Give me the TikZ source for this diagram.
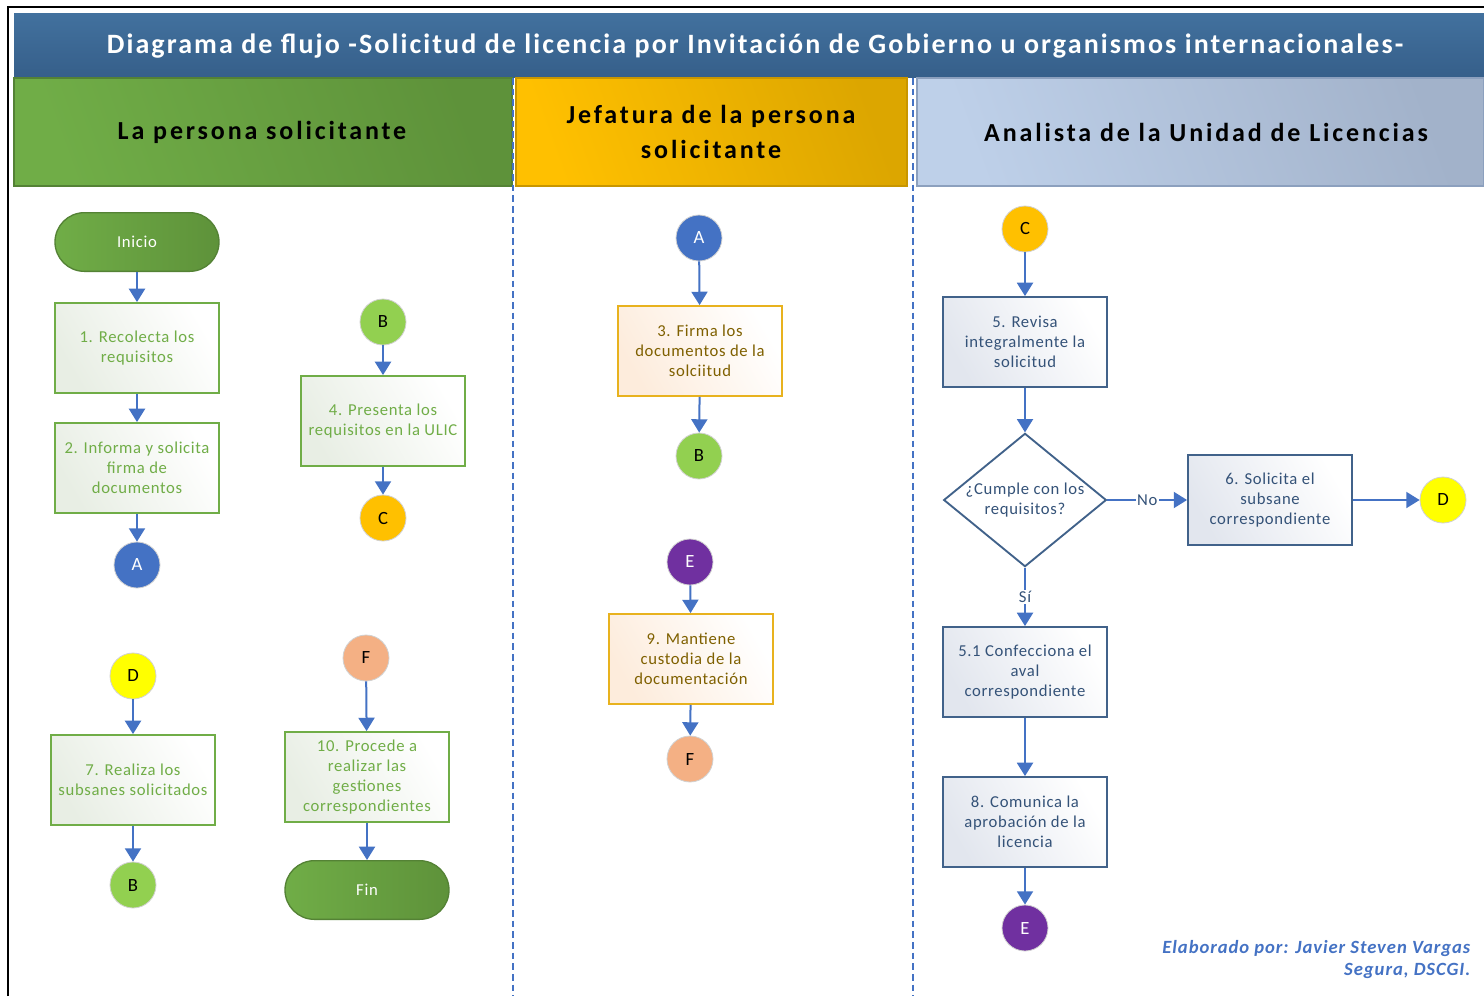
\documentclass[tikz,border=0pt]{standalone}
\usepackage{fontspec}
\setmainfont{Carlito}
\newfontfamily\spaced[LetterSpace=4]{Carlito}
\newfontfamily\titlefont[LetterSpace=7.5]{Carlito}
\newfontfamily\hdrfont[LetterSpace=11]{Carlito}
\newfontfamily\creditfont[LetterSpace=5]{Carlito}
\usetikzlibrary{shapes.geometric,arrows.meta}
\definecolor{arrowblue}{RGB}{68,114,196}
\definecolor{titlebgA}{RGB}{66,113,158}
\definecolor{titlebgB}{RGB}{54,95,138}
\definecolor{greenA}{RGB}{112,173,71}
\definecolor{greenB}{RGB}{94,146,58}
\definecolor{greenD}{RGB}{84,130,53}
\definecolor{goldA}{RGB}{255,192,0}
\definecolor{goldB}{RGB}{220,166,0}
\definecolor{goldD}{RGB}{200,150,0}
\definecolor{lbA}{RGB}{190,208,233}
\definecolor{lbB}{RGB}{162,178,202}
\definecolor{lbD}{RGB}{140,160,190}
\definecolor{gtext}{RGB}{112,173,71}
\definecolor{gfill}{RGB}{232,238,228}
\definecolor{ytext}{RGB}{127,96,0}
\definecolor{yborder}{RGB}{232,178,30}
\definecolor{yfill}{RGB}{253,236,220}
\definecolor{btext}{RGB}{52,82,120}
\definecolor{bborder}{RGB}{65,98,138}
\definecolor{bfill}{RGB}{226,230,238}
\definecolor{cA}{RGB}{68,114,196}
\definecolor{cB}{RGB}{146,208,80}
\definecolor{cC}{RGB}{255,192,0}
\definecolor{cD}{RGB}{255,255,0}
\definecolor{cE}{RGB}{112,48,160}
\definecolor{cF}{RGB}{244,176,132}
\tikzset{
  nodetext/.style={font=\spaced\fontsize{12.5pt}{15pt}\selectfont},
  procbox/.style={rectangle, minimum width=123pt, minimum height=67.5pt, line width=1.4pt, align=center, inner sep=2pt, nodetext},
  gbox/.style={procbox, draw=gtext, text=gtext, left color=gfill, right color=white, shading angle=120},
  ybox/.style={procbox, draw=yborder, text=ytext, left color=yfill, right color=white, shading angle=120},
  bbox/.style={procbox, draw=bborder, text=btext, left color=bfill, right color=white, shading angle=120},
  conn/.style={circle, minimum size=34.5pt, inner sep=0pt, draw=black!18, line width=0.6pt, font=\fontsize{14pt}{16pt}\selectfont},
  term/.style={rectangle, rounded corners=22pt, minimum width=123pt, minimum height=44pt, left color=greenA, right color=greenB, draw=greenD, line width=1pt, text=white, nodetext},
  flow/.style={-{Triangle[width=12pt,length=10pt]}, draw=arrowblue, line width=1.5pt},
  lanehdr/.style={rectangle, line width=0.8pt, align=center, font=\hdrfont\bfseries\fontsize{19.5pt}{26pt}\selectfont, text=black},
  lane/.style={draw=arrowblue, line width=1.5pt, dash pattern=on 5pt off 3pt},
  lbl/.style={fill=white, inner sep=1pt, text=btext, nodetext}
}
\begin{document}
\begin{tikzpicture}[x=0.75pt, y=-0.75pt]
\useasboundingbox (0,0) rectangle (1484,996);
\fill[white] (0,0) rectangle (1484,996);
% outer frame
\draw[line width=1.6pt] (8,996) -- (8,7) -- (1484,7);
% title bar
\shade[top color=titlebgA, bottom color=titlebgB] (14,13) rectangle (1484,77);
\node[text=white, font=\titlefont\bfseries\fontsize{21pt}{25pt}\selectfont] (title) at (755,46) {Diagrama de flujo -Solicitud de licencia por Invitación de Gobierno u organismos internacionales-};
% lane headers
\shade[left color=greenA, right color=greenB, shading angle=110, draw=greenD, line width=0.8pt] (14,78) rectangle (512,186);
\shade[left color=goldA, right color=goldB, shading angle=110, draw=goldD, line width=0.8pt] (516,78) rectangle (907,186);
\shade[left color=lbA, right color=lbB, shading angle=110, draw=lbD, line width=0.8pt] (917,78) rectangle (1484,186);
\node[lanehdr] (h1) at (262,132) {La persona solicitante};
\node[lanehdr] (h2) at (711,132) {Jefatura de la persona\\solicitante};
\node[lanehdr] (h3) at (1206,132) {Analista de la Unidad de Licencias};
% lane separators
\draw[lane] (513,78) -- (513,996);
\draw[lane] (913,78) -- (913,996);

% ---- lane 1
\node[term] (ini) at (137,242) {Inicio};
\node[gbox] (b1) at (137,348) {1. Recolecta los\\requisitos};
\node[gbox] (b2) at (137,468) {2. Informa y solicita\\firma de\\documentos};
\node[conn, fill=cA, text=white] (A1) at (137,565) {A};
\node[conn, fill=cB] (B1) at (383,322) {B};
\node[gbox] (b4) at (383,421) {4. Presenta los\\requisitos en la ULIC};
\node[conn, fill=cC] (C1) at (383,518) {C};
\node[conn, fill=cD] (D1) at (133,676) {D};
\node[gbox] (b7) at (133,780) {7. Realiza los\\subsanes solicitados};
\node[conn, fill=cB] (B2) at (133,885) {B};
\node[conn, fill=cF] (F1) at (366,658) {F};
\node[gbox] (b10) at (367,777) {10. Procede a\\realizar las\\gestiones\\correspondientes};
\node[term] (fin) at (367,890) {Fin};

% ---- lane 2
\node[conn, fill=cA, text=white] (A2) at (699,238) {A};
\node[ybox] (b3) at (700,351) {3. Firma los\\documentos de la\\solciitud};
\node[conn, fill=cB] (B3) at (699,456) {B};
\node[conn, fill=cE, text=white] (E1) at (690,562) {E};
\node[ybox] (b9) at (691,659) {9. Mantiene\\custodia de la\\documentación};
\node[conn, fill=cF] (F2) at (690,759) {F};

% ---- lane 3
\node[conn, fill=cC] (C2) at (1025,229) {C};
\node[bbox] (b5) at (1025,342) {5. Revisa\\integralmente la\\solicitud};
\node[diamond, minimum width=122pt, minimum height=100pt, inner sep=0pt, draw=bborder, line width=1.4pt, fill=white] (dec) at (1025,500) {};
\node[text=btext, align=center, nodetext] (dectext) at (1025,500) {¿Cumple con los\\requisitos?};
\node[bbox] (b6) at (1270,500) {6. Solicita el\\subsane\\correspondiente};
\node[conn, fill=cD] (D2) at (1443,500) {D};
\node[bbox] (b51) at (1025,672) {5.1 Confecciona el\\aval\\correspondiente};
\node[bbox] (b8) at (1025,822) {8. Comunica la\\aprobación de la\\licencia};
\node[conn, fill=cE, text=white] (E2) at (1025,928) {E};

% footer
\node[anchor=east, align=right, text=arrowblue, font=\creditfont\bfseries\itshape\fontsize{14pt}{16.5pt}\selectfont] (credit) at (1475,960) {Elaborado por: Javier Steven Vargas\\Segura, DSCGI.};

% ---- connectors
\draw[flow] (ini) -- (b1);
\draw[flow] (b1) -- (b2);
\draw[flow] (b2) -- (A1);
\draw[flow] (B1) -- (b4);
\draw[flow] (b4) -- (C1);
\draw[flow] (D1) -- (b7);
\draw[flow] (b7) -- (B2);
\draw[flow] (F1) -- (b10);
\draw[flow] (b10) -- (fin);
\draw[flow] (A2) -- (b3);
\draw[flow] (b3) -- (B3);
\draw[flow] (E1) -- (b9);
\draw[flow] (b9) -- (F2);
\draw[flow] (C2) -- (b5);
\draw[flow] (b5) -- (dec);
\draw[flow] (dec) -- node[lbl] (lno) {No} (b6);
\draw[flow] (b6) -- (D2);
\draw[flow] (dec) -- node[lbl, pos=0.5] (lsi) {Sí} (b51);
\draw[flow] (b51) -- (b8);
\draw[flow] (b8) -- (E2);
\end{tikzpicture}
\end{document}
